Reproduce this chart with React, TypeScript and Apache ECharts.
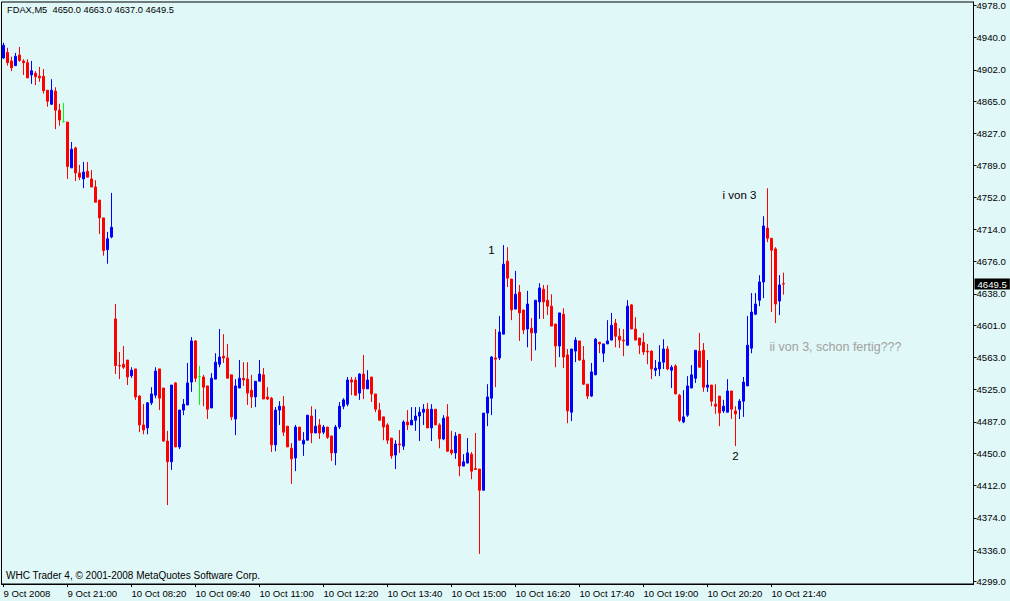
import React, { useEffect, useRef } from "react";
import * as echarts from "echarts";

// OHLC values of the FDAX M5 candles (9 Oct 19:40 .. 10 Oct 21:55)
const opens = [
  4916, 4922.5, 4912.5, 4907, 4919.5, 4912.5, 4910.5, 4896, 4898, 4894.5,
  4894.5, 4878, 4861.5, 4877, 4854.5, 4841, 4840.5, 4786.5, 4810, 4780.5,
  4773.5, 4782.5, 4773.5, 4764, 4748.5, 4727.5, 4690, 4705,
  4608.5, 4553.5, 4555, 4560, 4541.5, 4549.5, 4517.5, 4483.5, 4480, 4509.5,
  4518.5, 4549.5, 4527, 4464.5, 4440, 4533, 4457.5, 4501, 4507, 4534,
  4582.5, 4540.5, 4540, 4529.5, 4503.5, 4537.5, 4555, 4564.5, 4562.5, 4542.5,
  4490.5, 4527, 4538.5, 4537.5, 4524.5, 4516.5, 4535, 4542.5, 4516.5, 4515,
  4460, 4501, 4505.5, 4482, 4456, 4444.5, 4481, 4461, 4465.5, 4494,
  4474, 4483.5, 4475, 4481, 4470.5, 4450.5, 4481, 4505.5, 4508, 4536.5,
  4536.5, 4521, 4543.5, 4526, 4540, 4520, 4501, 4493, 4483.5, 4468,
  4448, 4461, 4458.5, 4487, 4483.5, 4489, 4494, 4498.5, 4502, 4480,
  4502, 4483.5, 4467, 4493, 4454, 4450.5, 4472.5, 4435, 4438.5, 4449,
  4432, 4431.5, 4406.5, 4497.5, 4515, 4562.5, 4562.5, 4590.5, 4676.5, 4655.5,
  4620, 4640, 4619, 4596.5, 4597.5, 4592, 4628.5, 4643.5, 4630.5, 4623.5,
  4602.5, 4576.5, 4614, 4566, 4498.5, 4570.5, 4582.5, 4560, 4531.5, 4517.5,
  4542.5, 4581, 4568, 4579, 4583.5, 4603.5, 4588, 4583.5, 4577.5, 4625,
  4596.5, 4586, 4581, 4570.5, 4570.5, 4548, 4549.5, 4557.5, 4573, 4548,
  4553, 4518.5, 4487, 4495, 4527, 4538.5, 4570.5, 4571.5, 4528, 4530.5,
  4508, 4517.5, 4500, 4498.5, 4523.5, 4500, 4502, 4511.5, 4529.5, 4574,
  4614, 4630.5, 4652, 4715.5, 4703.5, 4691, 4629.5, 4650
];
const closes = [
  4931, 4910.5, 4904.5, 4918, 4913, 4910.5, 4892.5, 4901, 4894, 4892.5,
  4877.5, 4865, 4878, 4854.5, 4843, 4841, 4788, 4808.5, 4780.5, 4775.5,
  4781.5, 4775.5, 4764, 4746, 4727.5, 4689, 4703, 4716.5,
  4553.5, 4553, 4551.5, 4540, 4548, 4516.5, 4483.5, 4477.5, 4509.5, 4520,
  4547, 4515, 4464.5, 4440, 4530.5, 4457.5, 4501, 4508, 4533, 4582.5,
  4538.5, 4540.5, 4528, 4502, 4538.5, 4557.5, 4563.5, 4562.5, 4538.5, 4493,
  4529.5, 4538.5, 4536.5, 4521, 4516.5, 4535, 4543.5, 4514, 4514, 4460,
  4501, 4505.5, 4475, 4457.5, 4443.5, 4481, 4465.5, 4465.5, 4495, 4474,
  4482, 4474, 4481, 4469, 4450.5, 4481, 4505.5, 4513, 4536.5, 4534,
  4518.5, 4543.5, 4526, 4536.5, 4520, 4502, 4489, 4481, 4465.5, 4447,
  4461, 4460, 4487, 4483.5, 4489, 4494, 4498.5, 4502, 4480, 4502,
  4483.5, 4467, 4491.5, 4452.5, 4450.5, 4470.5, 4435, 4440, 4450.5, 4429,
  4431, 4406.5, 4497.5, 4516.5, 4563.5, 4561, 4593, 4673, 4656.5, 4619,
  4637.5, 4615.5, 4595.5, 4626, 4592, 4630.5, 4645, 4628.5, 4623.5, 4600,
  4576.5, 4615.5, 4563.5, 4500, 4573, 4583.5, 4560, 4531.5, 4517.5, 4546,
  4584.5, 4579, 4579, 4582.5, 4601, 4588, 4583.5, 4582.5, 4623.5, 4596.5,
  4583.5, 4577.5, 4569.5, 4569.5, 4549.5, 4550.5, 4557.5, 4573, 4549.5, 4551.5,
  4520, 4489, 4493, 4529.5, 4542.5, 4571.5, 4551.5, 4528, 4530.5, 4511.5,
  4505.5, 4497.5, 4505.5, 4523.5, 4502, 4496.5, 4511.5, 4534, 4577.5, 4616.5,
  4626, 4652, 4718, 4703.5, 4689.5, 4626, 4648.5, 4649.5
];
const lows = [
  4915, 4907, 4900.5, 4907, 4911.5, 4896, 4892.5, 4885.5, 4884, 4888,
  4874, 4858.5, 4860.5, 4832, 4836, 4840, 4773.5, 4786.5, 4771, 4772,
  4762.5, 4775.5, 4763.5, 4746, 4708.5, 4683, 4673.5, 4703.5,
  4543.5, 4537.5, 4549.5, 4530.5, 4539, 4513, 4475, 4472.5, 4472.5, 4507,
  4515, 4501, 4463.5, 4389, 4430.5, 4457.5, 4455, 4495, 4507, 4522.5,
  4534, 4507, 4505.5, 4490.5, 4503.5, 4537.5, 4551.5, 4556.5, 4538.5, 4489,
  4471.5, 4527, 4529.5, 4507, 4503.5, 4504.5, 4535, 4514, 4513, 4451.5,
  4452.5, 4483.5, 4470.5, 4457.5, 4414, 4429, 4465.5, 4447, 4465.5, 4462,
  4474, 4467, 4472.5, 4467, 4441, 4436, 4478.5, 4502, 4505.5, 4518.5,
  4518.5, 4513, 4514, 4526, 4510.5, 4498.5, 4489, 4465.5, 4461, 4443.5,
  4431.5, 4450.5, 4454, 4477.5, 4483.5, 4476.5, 4464.5, 4483.5, 4480, 4464.5,
  4483.5, 4456, 4465.5, 4451.5, 4448, 4443.5, 4423, 4435, 4438.5, 4419.5,
  4431, 4331.5, 4406.5, 4482, 4495, 4528, 4560, 4590.5, 4646, 4607,
  4620, 4582.5, 4590.5, 4575, 4559, 4571.5, 4608.5, 4608.5, 4613, 4600,
  4551.5, 4563.5, 4550.5, 4485.5, 4488, 4557.5, 4559, 4530.5, 4514, 4516.5,
  4542.5, 4568, 4557.5, 4579, 4583.5, 4575, 4574, 4564.5, 4577.5, 4596.5,
  4583.5, 4567, 4566, 4555, 4537.5, 4541, 4541, 4549.5, 4548, 4527,
  4520, 4487, 4485.5, 4493, 4527, 4533, 4551.5, 4522.5, 4522.5, 4505.5,
  4496.5, 4482, 4497.5, 4498.5, 4490.5, 4458.5, 4490.5, 4493, 4529.5, 4568,
  4613, 4623.5, 4633, 4699, 4616.5, 4603.5, 4613, 4637
];
const highs = [
  4934, 4928, 4917.5, 4922, 4929, 4914.5, 4914.5, 4912.5, 4900.5, 4905.5,
  4903, 4878, 4891, 4881.5, 4862, 4863, 4840.5, 4817, 4811.5, 4790,
  4793.5, 4793.5, 4784, 4772, 4748.5, 4727.5, 4711, 4757,
  4626, 4569.5, 4576.5, 4560, 4551.5, 4549.5, 4518.5, 4508, 4510.5, 4528,
  4551.5, 4549.5, 4527, 4476.5, 4530.5, 4534, 4501, 4514, 4556.5, 4587,
  4583.5, 4553, 4542.5, 4529.5, 4544.5, 4568, 4596.5, 4590.5, 4579, 4542.5,
  4537.5, 4560, 4557.5, 4557.5, 4542.5, 4535, 4560, 4550.5, 4528, 4516.5,
  4504.5, 4511.5, 4517.5, 4482, 4462, 4483.5, 4481, 4475, 4495, 4505.5,
  4502, 4490.5, 4483.5, 4481, 4470.5, 4483.5, 4510.5, 4515, 4540, 4540,
  4540, 4544.5, 4566, 4548, 4540, 4520, 4509.5, 4493, 4485.5, 4468,
  4465.5, 4477.5, 4489, 4501, 4504.5, 4504.5, 4504.5, 4508, 4509.5, 4508,
  4502, 4485.5, 4495, 4508, 4476.5, 4475, 4472.5, 4449, 4468, 4451.5,
  4474, 4431.5, 4497.5, 4531.5, 4564.5, 4596.5, 4612, 4695.5, 4693, 4655.5,
  4665, 4648.5, 4619, 4641.5, 4609.5, 4630.5, 4650.5, 4648.5, 4648.5, 4637.5,
  4602.5, 4615.5, 4621, 4573, 4573, 4587, 4582.5, 4576.5, 4531.5, 4556.5,
  4586, 4581, 4579, 4607, 4615.5, 4608.5, 4597.5, 4596.5, 4630.5, 4626,
  4610.5, 4586, 4592, 4579, 4571.5, 4560, 4577.5, 4584.5, 4576.5, 4554,
  4555, 4520, 4524.5, 4541, 4554, 4571.5, 4592, 4580, 4560, 4530.5,
  4531.5, 4517.5, 4513, 4537.5, 4523.5, 4505.5, 4514, 4540, 4612, 4639,
  4639, 4660, 4729.5, 4762.5, 4703.5, 4693, 4660, 4663
];

// price-axis tick labels
const yTicks = [
  4299, 4336, 4374, 4412, 4450, 4487, 4525, 4563, 4601, 4638,
  4676, 4714, 4752, 4789, 4827, 4865, 4902, 4940, 4978
];

const lastPrice = 4649.5;
const titleText = "FDAX,M5  4650.0 4663.0 4637.0 4649.5";
const copyrightText = "WHC Trader 4, \u00a9 2001-2008 MetaQuotes Software Corp.";

// annotations: [bar index, price, text]
const annotations: [number, number, string][] = [
  [122, 4690, "1"],
  [184, 4754, "i von 3"],
  [183, 4447, "2"]
];
const note: [number, number, string] = [192, 4575, "ii von 3, schon fertig???"];

// time categories (5-minute bars), plus empty chart-shift slots on the right
const pad2 = (n: number) => String(n).padStart(2, "0");
const categories: string[] = [];
for (let m = 19 * 60 + 40; m < 22 * 60; m += 5)
  categories.push(`9 Oct ${pad2(Math.floor(m / 60))}:${pad2(m % 60)}`);
for (let m = 8 * 60; m < 22 * 60; m += 5)
  categories.push(`10 Oct ${pad2(Math.floor(m / 60))}:${pad2(m % 60)}`);
const LAST_BAR = categories.length - 1;
const TOTAL_SLOTS = 243;
for (let k = categories.length; k < TOTAL_SLOTS; k++) categories.push("slot" + k);

const FONT = '"Liberation Sans", Arial, sans-serif';
const BG = "#e0f8f8";

export default function App() {
  const ref = useRef<HTMLDivElement>(null);
  useEffect(() => {
    document.body.style.margin = "0";
    document.body.style.background = BG;
    const chart = echarts.init(ref.current!, undefined, { renderer: "svg" });
    const showIdx = (i: number) => i % 16 === 0 && i <= LAST_BAR;
    chart.setOption({
      animation: false,
      backgroundColor: BG,
      textStyle: { fontFamily: FONT },
      grid: {
        left: 1.5,
        top: 2,
        width: 972,
        height: 582,
        show: true,
        borderColor: "#000",
        borderWidth: 1,
        backgroundColor: "transparent"
      },
      xAxis: {
        type: "category",
        data: categories,
        boundaryGap: true,
        axisLine: { show: true, lineStyle: { color: "#000", width: 1 } },
        axisTick: {
          show: true,
          alignWithLabel: true,
          interval: (i: number) => showIdx(i),
          length: 3,
          lineStyle: { color: "#000" }
        },
        axisLabel: {
          interval: (i: number) => showIdx(i),
          formatter: (v: string, i: number) => (i === 0 ? "9 Oct 2008" : v),
          align: "left",
          margin: 4,
          color: "#000",
          fontSize: 9.6,
          fontFamily: FONT
        },
        splitLine: { show: false }
      },
      yAxis: {
        type: "value",
        position: "right",
        min: 4296,
        max: 4982,
        axisLine: { show: true, lineStyle: { color: "#000", width: 1 } },
        axisTick: {
          show: true,
          length: 3,
          customValues: yTicks,
          lineStyle: { color: "#000" }
        },
        axisLabel: {
          customValues: yTicks,
          formatter: (v: number) => v.toFixed(1),
          margin: 3,
          color: "#000",
          fontSize: 9.6,
          fontFamily: FONT
        },
        splitLine: { show: false }
      },
      series: [
        {
          type: "candlestick",
          data: opens.map((o, i) => [o, closes[i], lows[i], highs[i]]),
          barWidth: 2,
          itemStyle: {
            color: "#0000ff",
            color0: "#ff0000",
            borderColor: "#0000ff",
            borderColor0: "#ff0000",
            borderColorDoji: "#00ff00",
            borderWidth: 1
          },
          markLine: {
            silent: true,
            symbol: "none",
            lineStyle: { color: "rgba(0,0,0,0)", width: 0 },
            label: {
              show: true,
              position: "end",
              distance: 1,
              formatter: lastPrice.toFixed(1),
              backgroundColor: "#000",
              color: "#fff",
              padding: [1, 3, 0, 3],
              fontSize: 9.6,
              fontFamily: FONT
            },
            data: [{ yAxis: lastPrice }]
          },
          markPoint: {
            silent: true,
            symbol: "circle",
            symbolSize: 0,
            data: [
              ...annotations.map(([idx, price, text]) => ({
                coord: [idx, price],
                label: {
                  show: true,
                  position: "inside",
                  formatter: text,
                  color: "#000",
                  fontSize: 11.5,
                  fontFamily: FONT
                }
              })),
              {
                coord: [note[0], note[1]],
                label: {
                  show: true,
                  position: "inside",
                  align: "left",
                  offset: [-2, 0],
                  formatter: note[2],
                  color: "#a0a0a0",
                  fontSize: 12.5,
                  fontFamily: FONT
                }
              }
            ]
          }
        }
      ],
      graphic: [
        {
          type: "text",
          left: 7,
          top: 5,
          style: { text: titleText, fill: "#000", font: `9.3px ${FONT}` }
        },
        {
          type: "text",
          left: 6,
          top: 570,
          style: { text: copyrightText, fill: "#000", font: `10px ${FONT}` }
        }
      ]
    });
    return () => chart.dispose();
  }, []);
  return <div ref={ref} style={{ width: 1010, height: 601 }} />;
}
